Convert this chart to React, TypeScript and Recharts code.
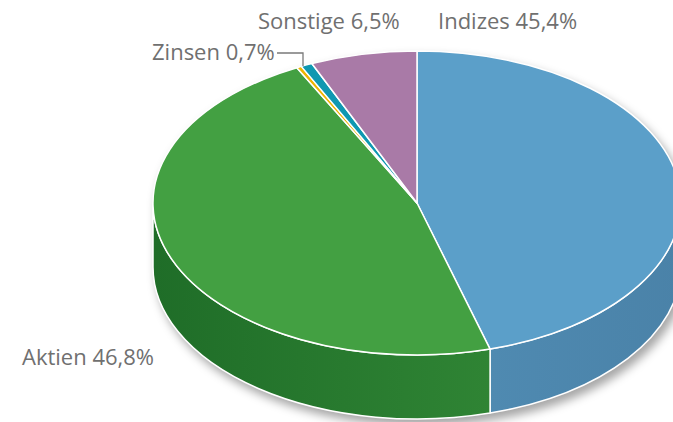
import { PieChart, Pie } from 'recharts'

const categories = ['Indizes', 'Aktien', 'Hebelprodukte', 'Zinsen', 'Sonstige']
const shares = [45.4, 46.8, 0.3, 0.7, 6.5]
const labelled = [true, true, false, true, true]

const TOP_COLORS = ['#5b9fc9', '#43a042', '#eeb400', '#0f98b1', '#a97aa7']
const WALL_LEFT = ['#4f8ab1', '#1f6d28', '#b98c00', '#0b7689', '#865c84']
const WALL_RIGHT = ['#4a82a8', '#2f8434', '#b98c00', '#0b7689', '#865c84']

const TILT = 152 / 264
const DEPTH = 64

const rows = categories.map((name, i) => ({ name, value: shares[i] }))

const fmt = (v: number) => v.toFixed(1).replace('.', ',') + '%'

function Slice3D(props: any) {
  const { cx, cy, outerRadius, startAngle, endAngle, payload } = props
  const i = categories.indexOf(payload?.name ?? props.name)
  const rx = outerRadius
  const ry = outerRadius * TILT
  const pt = (a: number, dy = 0) => {
    const r = (a * Math.PI) / 180
    return `${cx + rx * Math.cos(r)},${cy - ry * Math.sin(r) + dy}`
  }
  const s = Math.max(startAngle, endAngle)
  const e = Math.min(startAngle, endAngle)
  const large = s - e > 180 ? 1 : 0
  const top = `M${cx},${cy} L${pt(s)} A${rx},${ry} 0 ${large} 1 ${pt(e)} Z`

  // front-facing parts of the rim get a side wall
  const walls: string[] = []
  for (const k of [-1, 0, 1]) {
    const lo = Math.max(e, -180 + 360 * k)
    const hi = Math.min(s, 360 * k)
    if (hi > lo) {
      walls.push(
        `M${pt(hi)} A${rx},${ry} 0 0 1 ${pt(lo)} L${pt(lo, DEPTH)} A${rx},${ry} 0 0 0 ${pt(hi, DEPTH)} Z`
      )
    }
  }
  const gid = `wall-${i}`
  return (
    <g>
      <defs>
        <linearGradient id={gid} x1="0" y1="0" x2="1" y2="0">
          <stop offset="0%" stopColor={WALL_LEFT[i]} />
          <stop offset="100%" stopColor={WALL_RIGHT[i]} />
        </linearGradient>
      </defs>
      {walls.map((d, j) => (
        <path key={j} d={d} fill={`url(#${gid})`} stroke="#fff" strokeWidth={1.5} strokeLinejoin="round" />
      ))}
      <path d={top} fill={TOP_COLORS[i]} stroke="#fff" strokeWidth={1.5} strokeLinejoin="round" />
    </g>
  )
}

const LABEL_POS: [number, number][] = [
  [438, 29],
  [22, 365],
  [0, 0],
  [152, 60],
  [258, 29],
]

export default function App() {
  return (
    <div style={{ position: 'absolute', left: 0, top: 0, width: 673, height: 422, background: '#fff', overflow: 'hidden' }}>
      <style>{`.recharts-pie { filter: drop-shadow(4px 6px 5px rgba(0,0,0,0.35)); }`}</style>
      <PieChart width={673} height={422} margin={{ top: 0, right: 0, bottom: 0, left: 0 }}>
        <Pie
          data={rows}
          dataKey="value"
          nameKey="name"
          cx={417}
          cy={203}
          outerRadius={264}
          startAngle={90}
          endAngle={-270}
          stroke="none"
          isAnimationActive={false}
          shape={Slice3D}
          activeShape={Slice3D}
        />
      </PieChart>
      <svg width={673} height={422} style={{ position: 'absolute', left: 0, top: 0, pointerEvents: 'none' }}>
        {categories.map((c, i) =>
          labelled[i] ? (
            <text
              key={c}
              x={LABEL_POS[i][0]}
              y={LABEL_POS[i][1]}
              fontFamily="'Open Sans', sans-serif"
              fontSize={22}
              fill="#707070"
            >
              {`${c} ${fmt(shares[i])}`}
            </text>
          ) : null
        )}
        <polyline points="277,53 303,53 303,66" fill="none" stroke="#7a7a7a" strokeWidth={1.3} />
      </svg>
    </div>
  )
}
